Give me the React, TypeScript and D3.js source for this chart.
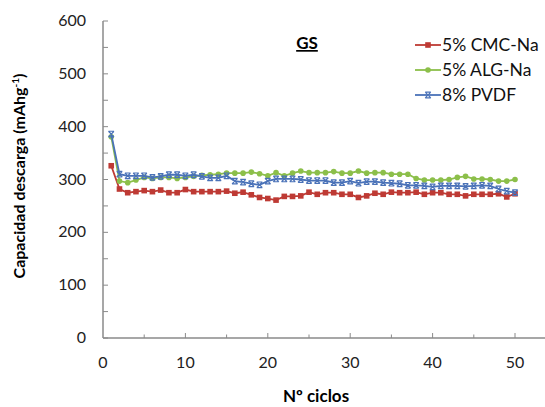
import React, { useRef, useEffect } from 'react';
import * as d3 from 'd3';

const cycles = d3.range(1, 51);

const cmcNa = [326, 282, 275, 277, 279, 277, 280, 275, 275, 281, 277, 277, 277, 277, 278, 274, 276, 271, 266, 264,
  261, 268, 268, 269, 276, 272, 275, 275, 272, 272, 266, 269, 274, 272, 276, 275, 275, 276, 272, 275,
  275, 272, 272, 269, 272, 272, 272, 273, 267, 273];

const algNa = [381, 297, 294, 299, 304, 302, 304, 304, 302, 304, 306, 308, 309, 310, 312, 312, 312, 314, 311, 307,
  313, 307, 312, 316, 313, 313, 313, 315, 312, 312, 316, 312, 313, 313, 310, 310, 310, 302, 299, 299,
  299, 300, 304, 306, 301, 301, 300, 297, 297, 300];

const pvdf = [386, 310, 307, 307, 307, 304, 306, 309, 309, 307, 309, 306, 303, 303, 307, 297, 295, 292, 290, 297,
  301, 301, 301, 300, 298, 298, 298, 294, 294, 297, 293, 296, 296, 294, 293, 292, 289, 289, 288, 286,
  288, 288, 288, 287, 288, 289, 288, 282, 278, 275];

const seriesNames = ['5% CMC-Na', '5% ALG-Na', '8% PVDF'];
const seriesColors = ['#be3a34', '#8cbf4a', '#4a72b8'];
const seriesMarkers = ['square', 'circle', 'star'];
const yTicks = [0, 100, 200, 300, 400, 500, 600];
const xTicks = [0, 10, 20, 30, 40, 50];

const App = () => {
  const svgRef = useRef<SVGSVGElement>(null);

  useEffect(() => {
    const width = 545;
    const height = 407;
    const margin = { top: 21, left: 103, bottom: 69 };
    const font = 'Lato, "Open Sans", sans-serif';
    const axisColor = '#8a8a8a';

    const svg = d3.select(svgRef.current)
      .attr('width', width)
      .attr('height', height)
      .style('background', 'white');
    svg.selectAll('*').remove();

    const xScale = d3.scaleLinear().domain([0, 55]).range([margin.left, margin.left + 55 * 8.24]);
    const yScale = d3.scaleLinear().domain([0, 600]).range([height - margin.bottom, margin.top]);
    const y0 = yScale(0);

    // axes lines
    svg.append('line')
      .attr('x1', xScale(0)).attr('x2', width)
      .attr('y1', y0).attr('y2', y0)
      .attr('stroke', axisColor).attr('stroke-width', 1.5);
    svg.append('line')
      .attr('x1', xScale(0)).attr('x2', xScale(0))
      .attr('y1', yScale(600)).attr('y2', y0)
      .attr('stroke', axisColor).attr('stroke-width', 1.5);

    // y ticks (inward)
    d3.range(0, 601, 50).forEach(v => {
      svg.append('line')
        .attr('x1', xScale(0)).attr('x2', xScale(0) + 5)
        .attr('y1', yScale(v)).attr('y2', yScale(v))
        .attr('stroke', axisColor).attr('stroke-width', 1);
    });
    // x ticks (inward)
    d3.range(5, 55, 5).forEach(v => {
      svg.append('line')
        .attr('x1', xScale(v)).attr('x2', xScale(v))
        .attr('y1', y0).attr('y2', y0 - (v % 10 === 0 ? 5 : 3.5))
        .attr('stroke', axisColor).attr('stroke-width', 1);
    });

    yTicks.forEach(v => {
      svg.append('text')
        .attr('x', 86)
        .attr('y', yScale(v) + 5)
        .attr('text-anchor', 'end')
        .attr('fill', '#222')
        .style('font-family', font)
        .style('font-size', '16px')
        .text(v);
    });
    xTicks.forEach(v => {
      svg.append('text')
        .attr('x', xScale(v))
        .attr('y', 368)
        .attr('text-anchor', 'middle')
        .attr('fill', '#222')
        .style('font-family', font)
        .style('font-size', '16px')
        .text(v);
    });

    // axis titles
    svg.append('text')
      .attr('x', 316)
      .attr('y', 402)
      .attr('text-anchor', 'middle')
      .attr('font-weight', 'bold')
      .style('font-family', font)
      .style('font-size', '17px')
      .text('Nº ciclos');

    const yTitle = svg.append('text')
      .attr('transform', 'translate(25,176) rotate(-90)')
      .attr('text-anchor', 'middle')
      .attr('font-weight', 'bold')
      .style('font-family', font)
      .style('font-size', '16px');
    yTitle.append('tspan').text('Capacidad descarga (mAhg');
    yTitle.append('tspan').attr('dy', -6).style('font-size', '10px').text('-1');
    yTitle.append('tspan').attr('dy', 6).text(')');

    svg.append('text')
      .attr('x', 307)
      .attr('y', 49)
      .attr('text-anchor', 'middle')
      .attr('font-weight', 'bold')
      .attr('text-decoration', 'underline')
      .style('font-family', font)
      .style('font-size', '17px')
      .text('GS');

    const drawMarker = (g: any, kind: string, x: number, y: number, color: string) => {
      if (kind === 'square') {
        g.append('rect')
          .attr('x', x - 2.8).attr('y', y - 2.8)
          .attr('width', 5.6).attr('height', 5.6)
          .attr('fill', color);
      } else if (kind === 'circle') {
        g.append('circle')
          .attr('cx', x).attr('cy', y).attr('r', 2.8)
          .attr('fill', color);
      } else {
        const s = 2.8;
        g.append('path')
          .attr('d', `M${x - s},${y - s}L${x + s},${y + s}M${x - s},${y + s}L${x + s},${y - s}M${x - s},${y - s}L${x + s},${y - s}M${x - s},${y + s}L${x + s},${y + s}`)
          .attr('stroke', color)
          .attr('stroke-width', 1.2)
          .attr('fill', 'none');
      }
    };

    const allSeries = [cmcNa, algNa, pvdf];
    const line = d3.line<number>()
      .x((_, i) => xScale(cycles[i]))
      .y(d => yScale(d));

    allSeries.forEach((vals, si) => {
      const g = svg.append('g');
      g.append('path')
        .datum(vals)
        .attr('fill', 'none')
        .attr('stroke', seriesColors[si])
        .attr('stroke-width', 1.8)
        .attr('d', line);
      vals.forEach((v, i) => drawMarker(g, seriesMarkers[si], xScale(cycles[i]), yScale(v), seriesColors[si]));
    });

    // legend
    seriesNames.forEach((name, i) => {
      const ly = 45 + i * 25;
      const g = svg.append('g');
      g.append('line')
        .attr('x1', 415).attr('x2', 441)
        .attr('y1', ly).attr('y2', ly)
        .attr('stroke', seriesColors[i]).attr('stroke-width', 1.8);
      drawMarker(g, seriesMarkers[i], 428, ly, seriesColors[i]);
      g.append('text')
        .attr('x', 442)
        .attr('y', ly + 6)
        .attr('fill', '#111')
        .style('font-family', font)
        .style('font-size', '17.5px')
        .text(name);
    });
  }, []);

  return (
    <div style={{ position: 'absolute', top: 0, left: 0, width: 545, height: 407, overflow: 'hidden', background: 'white' }}>
      <svg ref={svgRef}></svg>
    </div>
  );
};

export default App;
